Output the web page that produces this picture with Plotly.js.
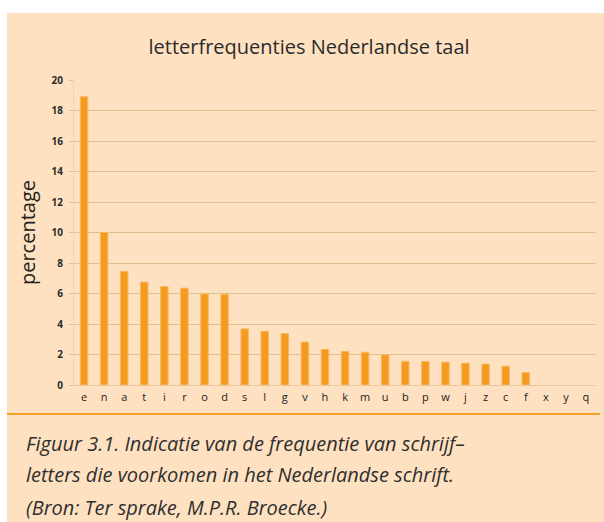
<!DOCTYPE html>
<html>
<head>
<meta charset="utf-8">
<script src="https://cdn.plot.ly/plotly-3.0.1.min.js"></script>
<style>
  html, body { margin: 0; padding: 0; background: #ffffff; width: 604px; height: 522px; overflow: hidden; }
  #chart { position: absolute; left: 7px; top: 13px; width: 597px; height: 509px; }
</style>
</head>
<body>
<div id="chart"></div>
<script>
const letters = ['e','n','a','t','i','r','o','d','s','l','g','v','h','k','m','u','b','p','w','j','z','c','f','x','y','q'];
const percentages = [18.9, 10.0, 7.45, 6.75, 6.45, 6.35, 5.97, 5.93, 3.68, 3.52, 3.37, 2.82, 2.33, 2.2, 2.15, 1.98, 1.55, 1.54, 1.5, 1.43, 1.37, 1.23, 0.81, 0, 0, 0];
const yTicks = [0, 2, 4, 6, 8, 10, 12, 14, 16, 18, 20];
const chartTitle = 'letterfrequenties Nederlandse taal';
const yTitle = 'percentage';
const captionLines = [
  'Figuur 3.1. Indicatie van de frequentie van schrijf–',
  'letters die voorkomen in het Nederlandse schrift.',
  '(Bron: Ter sprake, M.P.R. Broecke.)'
];

const W = 597, H = 509;
const M = {l: 67, r: 8, t: 67, b: 137};
const pw = W - M.l - M.r, ph = H - M.t - M.b;
const px = d => (d - M.l) / pw;           // div x -> paper x
const py = d => (H - M.b - d) / ph;       // div y -> paper y

const trace = {
  type: 'bar',
  x: letters,
  y: percentages,
  width: 0.37,
  marker: { color: '#f49a1f', line: { color: '#f8b75e', width: percentages.map(v => v > 0 ? 1 : 0) } },
  hoverinfo: 'x+y'
};

const captionY = [430, 461, 495];
const annotations = captionLines.map((t, i) => ({
  text: t, xref: 'paper', yref: 'paper',
  x: px(17), y: py(captionY[i]), xanchor: 'left', yanchor: 'middle',
  showarrow: false,
  font: { family: 'Open Sans, sans-serif', size: 20, color: '#2f2f2f', style: 'italic' }
}));

const layout = {
  width: W, height: H,
  paper_bgcolor: '#fee1c0',
  plot_bgcolor: '#fee1c0',
  margin: M,
  showlegend: false,
  title: {
    text: chartTitle,
    xref: 'container', yref: 'container',
    x: 0.506, y: 1 - 34 / H, xanchor: 'center', yanchor: 'middle',
    font: { family: 'Open Sans, sans-serif', size: 20, color: '#2b2b2b' }
  },
  xaxis: {
    type: 'category',
    showgrid: false,
    showline: true, linecolor: '#e8c79a', linewidth: 1,
    ticks: '',
    ticklabelstandoff: 2,
    tickfont: { family: 'Open Sans, sans-serif', size: 11, color: '#222222' },
    fixedrange: true
  },
  yaxis: {
    range: [0, 20],
    tickvals: yTicks,
    ticktext: yTicks.map(String),
    showgrid: true, gridcolor: '#dfc08f', gridwidth: 1,
    zeroline: false,
    showline: true, linecolor: '#f3d3a8', linewidth: 1,
    ticks: 'outside', ticklen: 4, tickcolor: '#dfc08f',
    ticklabelstandoff: 4,
    tickfont: { family: 'Open Sans, sans-serif', size: 10, color: '#2b2b2b', weight: 'bold' },
    title: { text: yTitle, standoff: 10, font: { family: 'Open Sans, sans-serif', size: 20, color: '#222222' } },
    automargin: false,
    fixedrange: true
  },
  shapes: [{
    type: 'line', xref: 'paper', yref: 'paper',
    x0: px(0), x1: px(593), y0: py(401), y1: py(401),
    line: { color: '#f6a02e', width: 2 }
  }],
  annotations: annotations
};

Plotly.newPlot('chart', [trace], layout, { displayModeBar: false, staticPlot: true });
</script>
</body>
</html>
